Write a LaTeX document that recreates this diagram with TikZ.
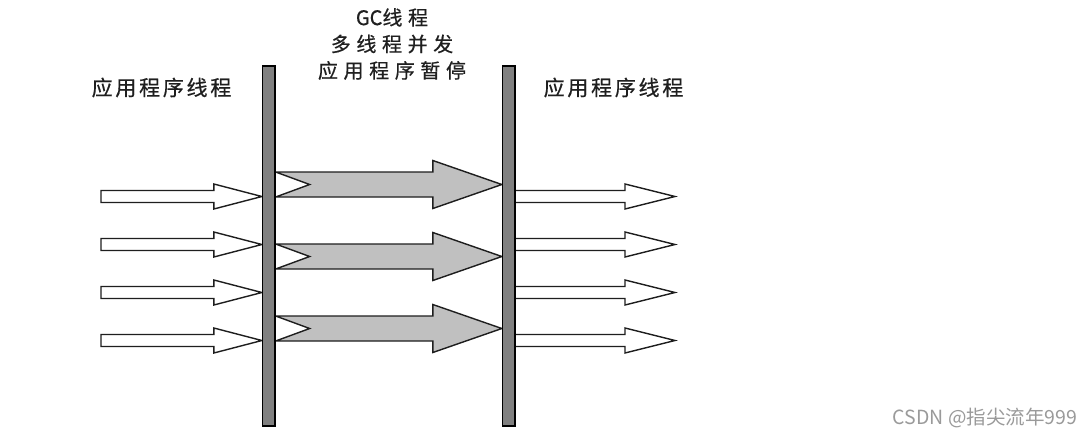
\documentclass[tikz,border=0pt]{standalone}
\usepackage{fontspec}
\usepackage{xcolor}
\usepackage{tikz}
\usetikzlibrary{calc}
\newfontfamily\cjk{Noto Sans CJK SC}
\newfontfamily\cjkwide{Noto Sans CJK SC}[LetterSpace=13,FakeBold=0.6]
\newfontfamily\cjktitle{Noto Sans CJK SC}[LetterSpace=28,FakeBold=0.6]
\newfontfamily\cjktight{Noto Sans CJK SC}[FakeBold=0.6]
\definecolor{BarGray}{HTML}{808080}
\definecolor{GcGray}{HTML}{C0C0C0}
\definecolor{EdgeDark}{HTML}{1E1E1E}
\definecolor{MarkGray}{HTML}{9A9A9A}
\pgfdeclarelayer{back}
\pgfdeclarelayer{mid}
\pgfsetlayers{back,mid,main}

\begin{document}
\begin{tikzpicture}[
    x=1pt, y=-1pt,
    bar/.style={draw=black, fill=BarGray, line width=1.3pt, inner sep=0pt,
      minimum width=12.5pt, minimum height=360pt},
    apparrow/.style={draw=EdgeDark, fill=white, line width=1.4pt},
    gcarrow/.style={draw=EdgeDark, fill=GcGray, line width=1.4pt},
    lbl/.style={font=\cjkwide\fontsize{21}{21}\selectfont, text=black!88, inner sep=0pt},
    gctitle/.style={font=\cjktitle\fontsize{20}{26.5}\selectfont, text=black!88,
      inner sep=0pt, align=center},
    wmark/.style={font=\cjk\fontsize{19.5}{19.5}\selectfont, text=MarkGray, inner sep=0pt}
  ]
    \begin{pgfonlayer}{back}
      \fill[white] (0,0) rectangle (1092,437);
    \end{pgfonlayer}
    \useasboundingbox (0,0) rectangle (1092,437);

    \node[bar] (lbar) at (268.75,246) {};
    \node[bar] (rbar) at (508.75,246) {};

    \node[lbl] (lapp) at (161.5,87.5) {应用程序线程};
    \node[lbl] (rapp) at (613.5,87.5) {应用程序线程};
    \node[gctitle] (gc) at (392,44) {{\cjktight GC}线程\\多线程并发\\应用程序暂停};
    \node[wmark] (csdn) at (985,418) {CSDN @指尖流年999};

    \begin{pgfonlayer}{mid}
      % application threads, before and after
      \foreach \y in {196.5,244.5,292.5,340.5} {
        \coordinate (tip) at (lbar.west |- 0,\y);
        \draw[apparrow] (101,\y-6) -- ($(tip)+(-48,-6)$) -- ($(tip)+(-48,-12.5)$)
          -- (tip) -- ($(tip)+(-48,12.5)$) -- ($(tip)+(-48,6)$) -- (101,\y+6) -- cycle;
        \coordinate (tail) at (rbar.east |- 0,\y);
        \draw[apparrow] ($(tail)+(0,-6)$) -- (625,\y-6) -- (625,\y-12.5) -- (675,\y)
          -- (625,\y+12.5) -- (625,\y+6) -- ($(tail)+(0,6)$);
      }
      % gc threads
      \foreach \y in {184.5,256.5,328.5} {
        \coordinate (tail) at (lbar.east |- 0,\y);
        \coordinate (tip) at (rbar.west |- 0,\y);
        \draw[gcarrow] ($(tail)+(0,-12.5)$) -- ($(tip)+(-69,-12.5)$) -- ($(tip)+(-69,-24)$)
          -- (tip) -- ($(tip)+(-69,24)$) -- ($(tip)+(-69,12.5)$) -- ($(tail)+(0,12.5)$)
          -- ($(tail)+(34,0)$) -- cycle;
      }
    \end{pgfonlayer}
  \end{tikzpicture}
\end{document}
